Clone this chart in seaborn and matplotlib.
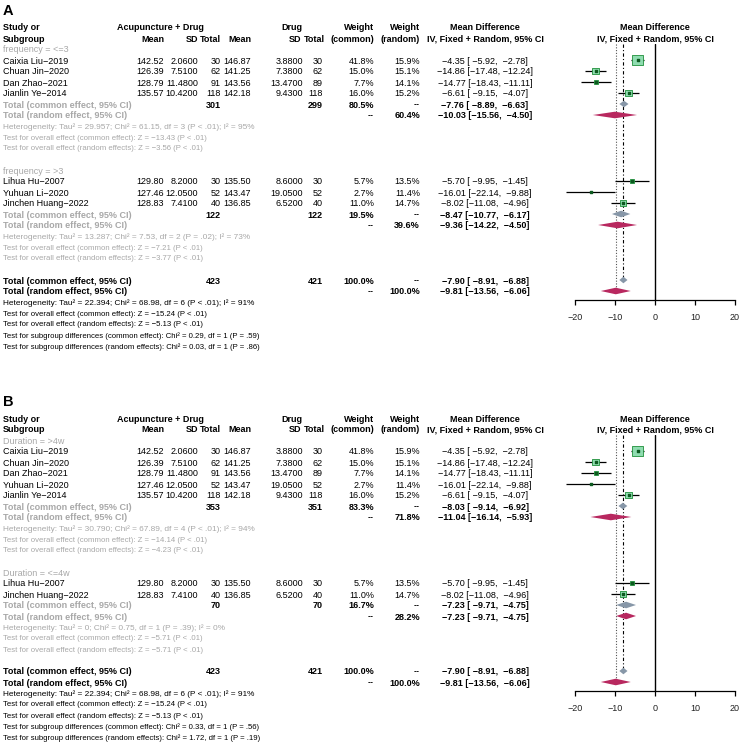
import matplotlib
matplotlib.use('Agg')
import pandas as pd
import matplotlib.pyplot as plt
import seaborn as sns

# study level data
studies = ['Caixia Liu\u22122019', 'Chuan Jin\u22122020', 'Dan Zhao\u22122021', 'Jianlin Ye\u22122014',
           'Lihua Hu\u22122007', 'Yuhuan Li\u22122020', 'Jinchen Huang\u22122022']
exp_mean = [142.52, 126.39, 128.79, 135.57, 129.80, 127.46, 128.83]
exp_sd = [2.06, 7.51, 11.48, 10.42, 8.20, 12.05, 7.41]
exp_n = [30, 62, 91, 118, 30, 52, 40]
ctl_mean = [146.87, 141.25, 143.56, 142.18, 135.50, 143.47, 136.85]
ctl_sd = [3.88, 7.38, 13.47, 9.43, 8.60, 19.05, 6.52]
ctl_n = [30, 62, 89, 118, 30, 52, 40]
w_common = [41.8, 15.0, 7.7, 16.0, 5.7, 2.7, 11.0]
w_random = [15.9, 15.1, 14.1, 15.2, 13.5, 11.4, 14.7]
md = [-4.35, -14.86, -14.77, -6.61, -5.70, -16.01, -8.02]
md_lo = [-5.92, -17.48, -18.43, -9.15, -9.95, -22.14, -11.08]
md_hi = [-2.78, -12.24, -11.11, -4.07, -1.45, -9.88, -4.96]

# panel A: subgroups by frequency
a_labels = ['frequency = <=3', 'frequency = >3']
a_members = [[0, 1, 2, 3], [4, 5, 6]]
a_n = [(301, 299), (122, 122)]
a_wc = [80.5, 19.5]
a_wr = [60.4, 39.6]
a_common = [(-7.76, -8.89, -6.63), (-8.47, -10.77, -6.17)]
a_random = [(-10.03, -15.56, -4.50), (-9.36, -14.22, -4.50)]
a_het = ['Tau\u00b2 = 29.957; Chi\u00b2 = 61.15, df = 3 (P < .01); I\u00b2 = 95%',
         'Tau\u00b2 = 13.287; Chi\u00b2 = 7.53, df = 2 (P = .02); I\u00b2 = 73%']
a_zc = [-13.43, -7.21]
a_zr = [-3.56, -3.77]
a_sub = ['Chi\u00b2 = 0.29, df = 1 (P = .59)', 'Chi\u00b2 = 0.03, df = 1 (P = .86)']

# panel B: subgroups by duration
b_labels = ['Duration = >4w', 'Duration = <=4w']
b_members = [[0, 1, 2, 5, 3], [4, 6]]
b_n = [(353, 351), (70, 70)]
b_wc = [83.3, 16.7]
b_wr = [71.8, 28.2]
b_common = [(-8.03, -9.14, -6.92), (-7.23, -9.71, -4.75)]
b_random = [(-11.04, -16.14, -5.93), (-7.23, -9.71, -4.75)]
b_het = ['Tau\u00b2 = 30.790; Chi\u00b2 = 67.89, df = 4 (P < .01); I\u00b2 = 94%',
         'Tau\u00b2 = 0; Chi\u00b2 = 0.75, df = 1 (P = .39); I\u00b2 = 0%']
b_zc = [-14.14, -5.71]
b_zr = [-4.23, -5.71]
b_sub = ['Chi\u00b2 = 0.33, df = 1 (P = .56)', 'Chi\u00b2 = 1.72, df = 1 (P = .19)']

# overall
tot_n = (423, 421)
tot_common = (-7.90, -8.91, -6.88)
tot_random = (-9.81, -13.56, -6.06)
tot_het = 'Tau\u00b2 = 22.394; Chi\u00b2 = 68.98, df = 6 (P < .01); I\u00b2 = 91%'
tot_zc = -15.24
tot_zr = -5.13

ticks = [-20, -10, 0, 10, 20]

# layout (pixels)
W, H = 740, 744
ROW = 11.0
FS = 6.5
FS_HEAD = 6.5
FS_HET = 5.95
FS_STAT = 5.6
GRAY = '#a8a8a8'
LTGREEN = '#8fdcb0'
DKGREEN = '#1f8f3a'
COMMON_COL = '#8797a8'
RANDOM_COL = '#b8285f'
X_STUDY, X_EM, X_ESD, X_EN, X_CM, X_CSD, X_CN, X_WC, X_WR, X_MD = 3, 164, 198, 221, 251, 303, 323, 374, 420, 485
FX0, FX1 = 575, 735

sns.set_theme(style='white')
plt.rcParams['font.family'] = ['Liberation Sans', 'DejaVu Sans']
plt.rcParams['font.size'] = FS


def num(v, d=2):
    return f'{v:.{d}f}'.replace('-', '\u2212')


def ci(m, lo, hi):
    return f'{num(m)} [{num(lo):>6}, {num(hi):>6}]'


def draw_panel(fig, letter, top, bottom, r0, labels, members, ns, wcs, wrs, commons, randoms, hets, zcs, zrs, subs):
    ax = fig.add_axes([0, 1 - bottom / H, 1, (bottom - top) / H])
    ax.set_xlim(0, W)
    ax.set_ylim((bottom - r0) / ROW, (top - r0) / ROW)
    ax.axis('off')

    def t(x, r, s, ha='left', bold=False, color='black', size=FS):
        ax.text(x, r, s, ha=ha, va='center_baseline', fontweight='bold' if bold else 'normal',
                color=color, fontsize=size)

    t(3, -1.55, letter, bold=True, size=10.5)
    # headers
    t(X_STUDY, 0, 'Study or', bold=True, size=FS_HEAD)
    t(204, 0, 'Acupuncture + Drug', ha='right', bold=True, size=FS_HEAD)
    t(X_CSD - 1, 0, 'Drug', ha='right', bold=True, size=FS_HEAD)
    t(X_WC, 0, 'Weight', ha='right', bold=True, size=FS_HEAD)
    t(X_WR, 0, 'Weight', ha='right', bold=True, size=FS_HEAD)
    t(X_MD, 0, 'Mean Difference', ha='center', bold=True, size=FS_HEAD)
    t(655, 0, 'Mean Difference', ha='center', bold=True, size=FS_HEAD)
    t(X_STUDY, 1, 'Subgroup', bold=True, size=FS_HEAD)
    for x, s in [(X_EM, 'Mean'), (X_ESD, 'SD'), (X_EN, 'Total'), (X_CM, 'Mean'), (X_CSD - 2, 'SD'),
                 (X_CN + 2, 'Total'), (X_WC, '(common)'), (X_WR, '(random)')]:
        t(x, 1, s, ha='right', bold=True, size=FS_HEAD)
    t(X_MD, 1, 'IV, Fixed + Random, 95% CI', ha='center', bold=True, size=FS_HEAD)
    t(655, 1, 'IV, Fixed + Random, 95% CI', ha='center', bold=True, size=FS_HEAD)

    rows = []
    diamonds = []
    r = 2
    for g in range(len(labels)):
        t(X_STUDY, r, labels[g], color=GRAY)
        r += 1
        for i in members[g]:
            t(X_STUDY, r, studies[i])
            t(X_EM, r, num(exp_mean[i]), ha='right')
            t(X_ESD, r, num(exp_sd[i], 4), ha='right')
            t(X_EN, r, str(exp_n[i]), ha='right')
            t(X_CM, r, num(ctl_mean[i]), ha='right')
            t(X_CSD, r, num(ctl_sd[i], 4), ha='right')
            t(X_CN, r, str(ctl_n[i]), ha='right')
            t(X_WC, r, f'{w_common[i]:.1f}%', ha='right')
            t(X_WR, r, f'{w_random[i]:.1f}%', ha='right')
            t(X_MD, r, ci(md[i], md_lo[i], md_hi[i]), ha='center')
            rows.append((r, i))
            r += 1
        t(X_STUDY, r, 'Total (common effect, 95% CI)', bold=True, color=GRAY)
        t(X_EN, r, str(ns[g][0]), ha='right', bold=True)
        t(X_CN, r, str(ns[g][1]), ha='right', bold=True)
        t(X_WC, r, f'{wcs[g]:.1f}%', ha='right', bold=True)
        t(X_WR, r, '--', ha='right', bold=True)
        t(X_MD, r, ci(*commons[g]), ha='center', bold=True)
        diamonds.append((r, commons[g], COMMON_COL))
        r += 1
        t(X_STUDY, r, 'Total (random effect, 95% CI)', bold=True, color=GRAY)
        t(X_WC, r, '--', ha='right', bold=True)
        t(X_WR, r, f'{wrs[g]:.1f}%', ha='right', bold=True)
        t(X_MD, r, ci(*randoms[g]), ha='center', bold=True)
        diamonds.append((r, randoms[g], RANDOM_COL))
        r += 1
        t(X_STUDY, r, 'Heterogeneity: ' + hets[g], color=GRAY, size=FS_HET)
        t(X_STUDY, r + 1, f'Test for overall effect (common effect): Z = {num(zcs[g])} (P < .01)',
          color=GRAY, size=FS_STAT)
        t(X_STUDY, r + 2, f'Test for overall effect (random effects): Z = {num(zrs[g])} (P < .01)',
          color=GRAY, size=FS_STAT)
        r += 4

    # overall
    t(X_STUDY, r, 'Total (common effect, 95% CI)', bold=True)
    t(X_EN, r, str(tot_n[0]), ha='right', bold=True)
    t(X_CN, r, str(tot_n[1]), ha='right', bold=True)
    t(X_WC, r, '100.0%', ha='right', bold=True)
    t(X_WR, r, '--', ha='right', bold=True)
    t(X_MD, r, ci(*tot_common), ha='center', bold=True)
    diamonds.append((r, tot_common, COMMON_COL))
    r_common = r
    r += 1
    t(X_STUDY, r, 'Total (random effect, 95% CI)', bold=True)
    t(X_WC, r, '--', ha='right', bold=True)
    t(X_WR, r, '100.0%', ha='right', bold=True)
    t(X_MD, r, ci(*tot_random), ha='center', bold=True)
    diamonds.append((r, tot_random, RANDOM_COL))
    r_random = r
    r += 1
    t(X_STUDY, r, 'Heterogeneity: ' + tot_het, size=FS_HET)
    t(X_STUDY, r + 1, f'Test for overall effect (common effect): Z = {num(tot_zc)} (P < .01)', size=FS_STAT)
    t(X_STUDY, r + 2, f'Test for overall effect (random effects): Z = {num(tot_zr)} (P < .01)', size=FS_STAT)
    t(X_STUDY, r + 3, 'Test for subgroup differences (common effect): ' + subs[0], size=FS_STAT)
    t(X_STUDY, r + 4, 'Test for subgroup differences (random effects): ' + subs[1], size=FS_STAT)

    # forest part
    f_top = r0 + ROW * 1.5
    f_bot = r0 + ROW * (r_random + 0.8)
    fx = fig.add_axes([FX0 / W, 1 - f_bot / H, (FX1 - FX0) / W, (f_bot - f_top) / H])
    fx.patch.set_alpha(0)
    fx.set_xlim(ticks[0], ticks[-1])
    fx.set_ylim(r_random + 0.8, 1.5)
    for side in ['top', 'left', 'right']:
        fx.spines[side].set_visible(False)
    fx.spines['bottom'].set_color('black')
    fx.spines['bottom'].set_linewidth(0.9)
    fx.set_xticks(ticks)
    fx.set_yticks([])
    fx.tick_params(axis='x', bottom=True, length=3.5, width=0.9, color='black', direction='out',
                   labelsize=FS, pad=6, labelcolor='#222222')

    fx.axvline(0, color='black', lw=1.0)
    fx.vlines(tot_common[0], 1.5, r_common, color='black', lw=0.8, linestyles=(0, (3, 2, 1, 2)))
    fx.vlines(tot_random[0], 1.5, r_random, color='#555555', lw=0.8, linestyles=(0, (1, 1.5)))

    df = pd.DataFrame({'row': [rr for rr, _ in rows],
                       'md': [md[i] for _, i in rows],
                       'lo': [md_lo[i] for _, i in rows],
                       'hi': [md_hi[i] for _, i in rows],
                       'w': [w_common[i] for _, i in rows]})
    fx.hlines(df['row'], df['lo'], df['hi'], color='black', lw=0.9, clip_on=False, zorder=2)
    sns.scatterplot(data=df, x='md', y='row', size='w', sizes=(0, 55), size_norm=(0, max(w_common)),
                    marker='s', color=LTGREEN, edgecolor=DKGREEN, linewidth=0.6, legend=False,
                    ax=fx, zorder=3, clip_on=False)
    fx.scatter(df['md'], df['row'], s=2, marker='s', color='#0d5a20', zorder=4, clip_on=False)
    for rr, (m, lo, hi), col in diamonds:
        h = 0.3
        fx.fill([lo, m, hi, m], [rr, rr - h, rr, rr + h], color=col, lw=0, clip_on=False, zorder=3)
    fx.set_xlabel('')
    fx.set_ylabel('')


fig = plt.figure(figsize=(W / 100, H / 100), dpi=100)
draw_panel(fig, 'A', 0, 390, 27, a_labels, a_members, a_n, a_wc, a_wr, a_common, a_random,
           a_het, a_zc, a_zr, a_sub)
draw_panel(fig, 'B', 390, H, 418, b_labels, b_members, b_n, b_wc, b_wr, b_common, b_random,
           b_het, b_zc, b_zr, b_sub)
fig.savefig('out.png', dpi=100)
